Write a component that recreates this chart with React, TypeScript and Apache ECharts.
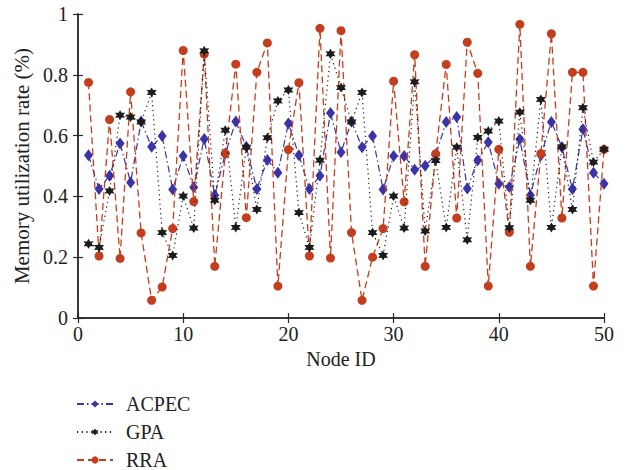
import React, { useEffect, useRef } from "react";
import * as echarts from "echarts";

const nodeIds = [
  1, 2, 3, 4, 5, 6, 7, 8, 9, 10, 11, 12, 13, 14, 15, 16, 17, 18, 19, 20, 21, 22, 23, 24, 25,
  26, 27, 28, 29, 30, 31, 32, 33, 34, 35, 36, 37, 38, 39, 40, 41, 42, 43, 44, 45, 46, 47, 48, 49, 50,
];

const acpec = [
  0.535, 0.424, 0.468, 0.574, 0.446, 0.646, 0.563, 0.599, 0.423, 0.533,
  0.43, 0.589, 0.404, 0.541, 0.646, 0.563, 0.424, 0.52, 0.478, 0.64,
  0.535, 0.424, 0.468, 0.674, 0.545, 0.646, 0.562, 0.599, 0.423, 0.533,
  0.533, 0.488, 0.501, 0.535, 0.645, 0.661, 0.426, 0.519, 0.578, 0.442,
  0.431, 0.588, 0.404, 0.535, 0.645, 0.562, 0.424, 0.621, 0.478, 0.442,
];

const gpa = [
  0.244, 0.232, 0.418, 0.667, 0.661, 0.645, 0.742, 0.281, 0.206, 0.401,
  0.296, 0.879, 0.387, 0.618, 0.298, 0.562, 0.357, 0.593, 0.714, 0.75,
  0.347, 0.232, 0.519, 0.869, 0.758, 0.645, 0.742, 0.281, 0.206, 0.401,
  0.296, 0.777, 0.286, 0.518, 0.298, 0.562, 0.257, 0.594, 0.615, 0.648,
  0.297, 0.677, 0.387, 0.719, 0.298, 0.563, 0.357, 0.692, 0.513, 0.555,
];

const rra = [
  0.775, 0.204, 0.653, 0.196, 0.744, 0.28, 0.058, 0.102, 0.294, 0.88,
  0.383, 0.868, 0.17, 0.541, 0.835, 0.33, 0.808, 0.905, 0.105, 0.554,
  0.774, 0.204, 0.953, 0.197, 0.945, 0.281, 0.058, 0.2, 0.294, 0.779,
  0.382, 0.866, 0.17, 0.54, 0.834, 0.329, 0.907, 0.805, 0.105, 0.555,
  0.282, 0.966, 0.17, 0.541, 0.935, 0.329, 0.808, 0.808, 0.105, 0.555,
];

const FONT = "'Liberation Serif', 'DejaVu Serif', serif";
const STAR =
  "path://M0,-100L27.5,-47.6L86.6,-50L55,0L86.6,50L27.5,47.6L0,100L-27.5,47.6L-86.6,50L-55,0L-86.6,-50L-27.5,-47.6Z";

const pairs = (vals: number[]) => nodeIds.map((id, i) => [id, vals[i]]);

export default function App() {
  const ref = useRef<HTMLDivElement>(null);
  useEffect(() => {
    if (!ref.current) return;
    const chart = echarts.init(ref.current, null, { renderer: "svg" });
    const axisLine = { show: true, lineStyle: { color: "#2a2a2a", width: 1.5 } };
    const tick = { show: true, inside: true, length: 5, lineStyle: { color: "#2a2a2a", width: 1.2 } };
    chart.setOption({
      animation: false,
      backgroundColor: "#ffffff",
      textStyle: { fontFamily: FONT },
      grid: { left: 78, right: 23, top: 14, bottom: 152, containLabel: false },
      legend: {
        orient: "vertical",
        left: 76,
        top: 394,
        padding: 0,
        itemWidth: 36,
        itemHeight: 9,
        itemGap: 8,
        data: ["ACPEC", "GPA", "RRA"],
        textStyle: {
          fontFamily: FONT,
          fontSize: 20,
          lineHeight: 20,
          color: "#222",
          padding: [0, 0, 0, 8],
        },
      },
      xAxis: [
        {
          type: "value",
          min: 0,
          max: 50,
          interval: 10,
          name: "Node ID",
          nameLocation: "middle",
          nameGap: 28,
          nameTextStyle: { fontFamily: FONT, fontSize: 20, color: "#222" },
          axisLine,
          axisTick: tick,
          axisLabel: { fontFamily: FONT, fontSize: 20, color: "#222", margin: 6 },
          splitLine: { show: false },
        },
        {
          type: "value",
          position: "top",
          min: 0,
          max: 50,
          interval: 10,
          axisLine,
          axisTick: tick,
          axisLabel: { show: false },
          splitLine: { show: false },
        },
      ],
      yAxis: [
        {
          type: "value",
          min: 0,
          max: 1,
          interval: 0.2,
          name: "Memory utilization rate (%)",
          nameLocation: "middle",
          nameGap: 43,
          nameTextStyle: { fontFamily: FONT, fontSize: 21, color: "#222" },
          axisLine,
          axisTick: tick,
          axisLabel: {
            fontFamily: FONT,
            fontSize: 20,
            color: "#222",
            margin: 10,
            formatter: (v: number) => (v === 0 ? "0" : v === 1 ? "1" : String(Math.round(v * 10) / 10)),
          },
          splitLine: { show: false },
        },
        {
          type: "value",
          position: "right",
          min: 0,
          max: 1,
          interval: 0.2,
          axisLine,
          axisTick: tick,
          axisLabel: { show: false },
          splitLine: { show: false },
        },
      ],
      series: [
        {
          name: "ACPEC",
          type: "line",
          data: pairs(acpec),
          symbol: "diamond",
          symbolSize: [9, 12],
          itemStyle: { color: "#3b33a8" },
          lineStyle: { color: "#3b33a8", width: 1.2, type: [7, 3, 1.5, 3] },
          z: 2,
        },
        {
          name: "RRA",
          type: "line",
          data: pairs(rra),
          symbol: "circle",
          symbolSize: 9,
          itemStyle: { color: "#c43d1c" },
          lineStyle: { color: "#c43d1c", width: 1.3, type: [7, 4] },
          z: 3,
        },
        {
          name: "GPA",
          type: "line",
          data: pairs(gpa),
          symbol: STAR,
          symbolSize: 10,
          itemStyle: { color: "#1c1c1c" },
          lineStyle: { color: "#1c1c1c", width: 1.2, type: [1.2, 3.5] },
          z: 4,
        },
      ],
    });
    return () => chart.dispose();
  }, []);
  return <div ref={ref} style={{ width: 627, height: 470, position: "absolute", left: 0, top: 0 }} />;
}
